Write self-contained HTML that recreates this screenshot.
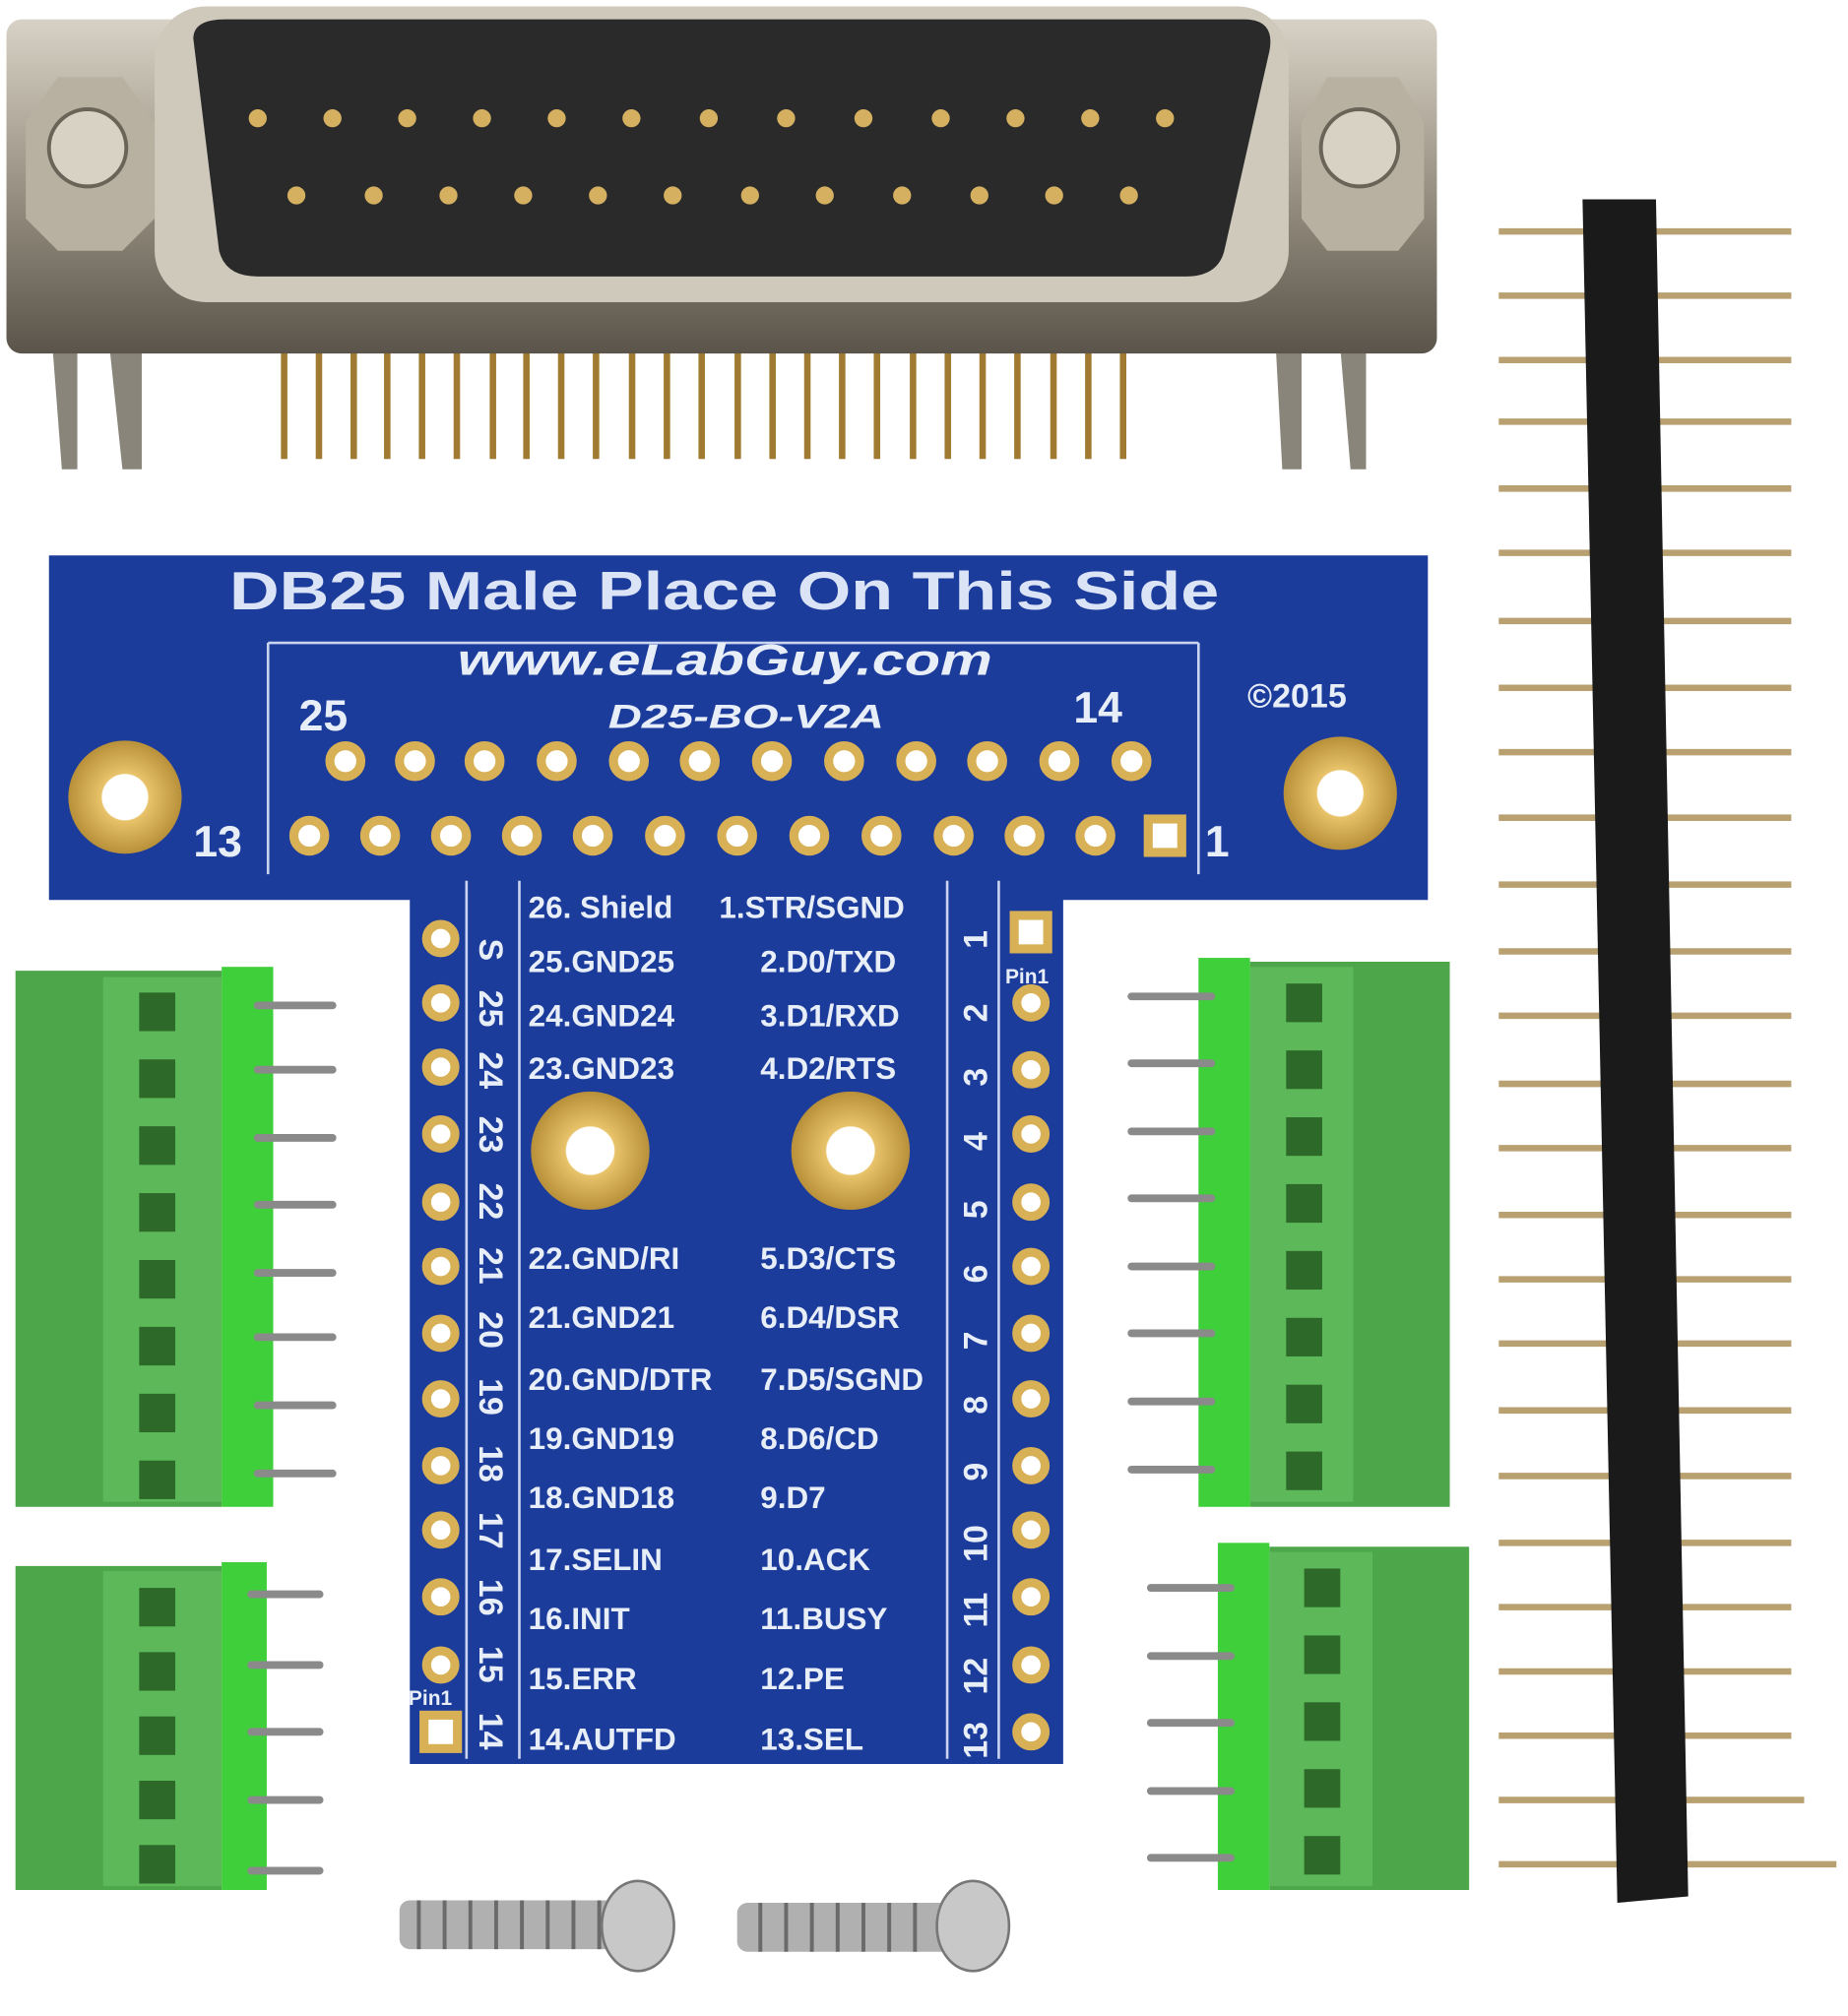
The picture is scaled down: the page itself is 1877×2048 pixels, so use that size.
<!DOCTYPE html>
<html><head><meta charset="utf-8"><style>
html,body{margin:0;padding:0;background:#fff;}
svg{display:block;}
text{font-family:"Liberation Sans",sans-serif;font-weight:bold;fill:#e8eef8;}
</style></head><body>
<svg width="1877" height="2048" viewBox="0 0 1434 1568" preserveAspectRatio="none" xmlns="http://www.w3.org/2000/svg">
<defs>
<linearGradient id="metal" x1="0" y1="0" x2="0" y2="1"><stop offset="0" stop-color="#d8d2c6"/><stop offset="0.5" stop-color="#9a9284"/><stop offset="1" stop-color="#5a544a"/></linearGradient>
<radialGradient id="gold"><stop offset="0.4" stop-color="#fff"/><stop offset="0.42" stop-color="#e8c36a"/><stop offset="1" stop-color="#b8903a"/></radialGradient>
</defs>
<g fill="#a07a30">
<rect x="218" y="262" width="5" height="95"/><rect x="245" y="262" width="5" height="95"/><rect x="272" y="262" width="5" height="95"/><rect x="298" y="262" width="5" height="95"/><rect x="325" y="262" width="5" height="95"/><rect x="352" y="262" width="5" height="95"/><rect x="380" y="262" width="5" height="95"/><rect x="406" y="262" width="5" height="95"/><rect x="433" y="262" width="5" height="95"/><rect x="460" y="262" width="5" height="95"/><rect x="488" y="262" width="5" height="95"/><rect x="515" y="262" width="5" height="95"/><rect x="542" y="262" width="5" height="95"/><rect x="570" y="262" width="5" height="95"/><rect x="597" y="262" width="5" height="95"/><rect x="624" y="262" width="5" height="95"/><rect x="651" y="262" width="5" height="95"/><rect x="678" y="262" width="5" height="95"/><rect x="706" y="262" width="5" height="95"/><rect x="733" y="262" width="5" height="95"/><rect x="760" y="262" width="5" height="95"/><rect x="787" y="262" width="5" height="95"/><rect x="815" y="262" width="5" height="95"/><rect x="842" y="262" width="5" height="95"/><rect x="869" y="262" width="5" height="95"/>
</g>
<path d="M40 260 L48 365 L60 365 L60 270 Z M85 270 L95 365 L110 365 L110 270Z M990 270 L995 365 L1010 365 L1010 270Z M1040 270 L1048 365 L1060 365 L1060 270Z" fill="#8a857a"/>
<rect x="5" y="15" width="1110" height="260" rx="12" fill="url(#metal)"/>
<rect x="120" y="5" width="880" height="230" rx="40" fill="#cfc9bc"/>
<path d="M150 30 Q150 15 175 15 L965 15 Q990 15 985 40 L950 195 Q945 215 920 215 L200 215 Q175 215 170 195 Z" fill="#2a2a2a"/>
<g fill="#d4b060">
<circle cx="200" cy="92" r="7"/><circle cx="258" cy="92" r="7"/><circle cx="316" cy="92" r="7"/><circle cx="374" cy="92" r="7"/><circle cx="432" cy="92" r="7"/><circle cx="490" cy="92" r="7"/><circle cx="550" cy="92" r="7"/><circle cx="610" cy="92" r="7"/><circle cx="670" cy="92" r="7"/><circle cx="730" cy="92" r="7"/><circle cx="788" cy="92" r="7"/><circle cx="846" cy="92" r="7"/><circle cx="904" cy="92" r="7"/>
<circle cx="230" cy="152" r="7"/><circle cx="290" cy="152" r="7"/><circle cx="348" cy="152" r="7"/><circle cx="406" cy="152" r="7"/><circle cx="464" cy="152" r="7"/><circle cx="522" cy="152" r="7"/><circle cx="582" cy="152" r="7"/><circle cx="640" cy="152" r="7"/><circle cx="700" cy="152" r="7"/><circle cx="760" cy="152" r="7"/><circle cx="818" cy="152" r="7"/><circle cx="876" cy="152" r="7"/>
</g>
<polygon points="20,95 45,60 95,60 120,95 120,170 95,195 45,195 20,170" fill="#b8b0a0"/>
<circle cx="68" cy="115" r="30" fill="#d8d2c4" stroke="#6a6458" stroke-width="3"/>
<polygon points="1010,95 1030,60 1085,60 1105,95 1105,170 1085,195 1030,195 1010,170" fill="#b8b0a0"/>
<circle cx="1055" cy="115" r="30" fill="#d8d2c4" stroke="#6a6458" stroke-width="3"/>

<path d="M38 432 L1108 432 L1108 700 L825 700 L825 1372 L318 1372 L318 700 L38 700 Z" fill="#1c3c9c"/>
<g stroke="#c8d4f0" stroke-width="2" fill="none">
<line x1="208" y1="500" x2="208" y2="680"/><line x1="930" y1="500" x2="930" y2="680"/>
<line x1="208" y1="500" x2="930" y2="500"/>
<line x1="362" y1="685" x2="362" y2="1368"/><line x1="403" y1="685" x2="403" y2="1368"/>
<line x1="735" y1="685" x2="735" y2="1368"/><line x1="775" y1="685" x2="775" y2="1368"/>
</g>
<text x="178" y="474" font-size="42" textLength="768" lengthAdjust="spacingAndGlyphs" style="fill:#dbe3f6">DB25 Male Place On This Side</text>
<text x="355" y="525" font-size="34" font-style="italic" textLength="415" lengthAdjust="spacingAndGlyphs">www.eLabGuy.com</text>
<text x="472" y="566" font-size="26" font-style="italic" textLength="214" lengthAdjust="spacingAndGlyphs">D25-BO-V2A</text>
<text x="232" y="568" font-size="34" font-weight="normal">25</text>
<text x="833" y="562" font-size="34" font-weight="normal">14</text>
<text x="968" y="550" font-size="26">©2015</text>
<text x="150" y="666" font-size="34" font-weight="normal">13</text>
<text x="935" y="666" font-size="34" font-weight="normal">1</text>
<circle cx="97" cy="620" r="44" fill="url(#gold)"/>
<circle cx="1040" cy="617" r="44" fill="url(#gold)"/>
<circle cx="458" cy="895" r="46" fill="url(#gold)"/>
<circle cx="660" cy="895" r="46" fill="url(#gold)"/>
<g fill="#fff" stroke="#d8b055" stroke-width="7">
<circle cx="268" cy="592" r="12"/><circle cx="322" cy="592" r="12"/><circle cx="376" cy="592" r="12"/><circle cx="432" cy="592" r="12"/><circle cx="488" cy="592" r="12"/><circle cx="543" cy="592" r="12"/><circle cx="599" cy="592" r="12"/><circle cx="655" cy="592" r="12"/><circle cx="711" cy="592" r="12"/><circle cx="766" cy="592" r="12"/><circle cx="822" cy="592" r="12"/><circle cx="878" cy="592" r="12"/>
<circle cx="240" cy="650" r="12"/><circle cx="295" cy="650" r="12"/><circle cx="350" cy="650" r="12"/><circle cx="405" cy="650" r="12"/><circle cx="460" cy="650" r="12"/><circle cx="516" cy="650" r="12"/><circle cx="572" cy="650" r="12"/><circle cx="628" cy="650" r="12"/><circle cx="684" cy="650" r="12"/><circle cx="740" cy="650" r="12"/><circle cx="795" cy="650" r="12"/><circle cx="850" cy="650" r="12"/>
<circle cx="342" cy="730" r="11"/><circle cx="342" cy="780" r="11"/><circle cx="342" cy="830" r="11"/><circle cx="342" cy="882" r="11"/><circle cx="342" cy="935" r="11"/><circle cx="342" cy="985" r="11"/><circle cx="342" cy="1037" r="11"/><circle cx="342" cy="1088" r="11"/><circle cx="342" cy="1140" r="11"/><circle cx="342" cy="1190" r="11"/><circle cx="342" cy="1242" r="11"/><circle cx="342" cy="1295" r="11"/>
<circle cx="800" cy="780" r="11"/><circle cx="800" cy="832" r="11"/><circle cx="800" cy="882" r="11"/><circle cx="800" cy="935" r="11"/><circle cx="800" cy="985" r="11"/><circle cx="800" cy="1037" r="11"/><circle cx="800" cy="1088" r="11"/><circle cx="800" cy="1140" r="11"/><circle cx="800" cy="1190" r="11"/><circle cx="800" cy="1242" r="11"/><circle cx="800" cy="1295" r="11"/><circle cx="800" cy="1347" r="11"/>
</g>
<g fill="#fff" stroke="#d8b055" stroke-width="7">
<rect x="891" y="637" width="26" height="26"/><rect x="329" y="1334" width="26" height="26"/><rect x="787" y="712" width="26" height="26"/>
</g>
<text x="317" y="1326" font-size="16">Pin1</text>
<text x="780" y="765" font-size="16">Pin1</text>
<g font-size="24">
<text x="410" y="714">26. Shield</text><text x="558" y="714">1.STR/SGND</text>
<text x="410" y="756">25.GND25</text><text x="590" y="756">2.D0/TXD</text>
<text x="410" y="798">24.GND24</text><text x="590" y="798">3.D1/RXD</text>
<text x="410" y="839">23.GND23</text><text x="590" y="839">4.D2/RTS</text>
<text x="410" y="987">22.GND/RI</text><text x="590" y="987">5.D3/CTS</text>
<text x="410" y="1033">21.GND21</text><text x="590" y="1033">6.D4/DSR</text>
<text x="410" y="1081">20.GND/DTR</text><text x="590" y="1081">7.D5/SGND</text>
<text x="410" y="1127">19.GND19</text><text x="590" y="1127">8.D6/CD</text>
<text x="410" y="1173">18.GND18</text><text x="590" y="1173">9.D7</text>
<text x="410" y="1221">17.SELIN</text><text x="590" y="1221">10.ACK</text>
<text x="410" y="1267">16.INIT</text><text x="590" y="1267">11.BUSY</text>
<text x="410" y="1314">15.ERR</text><text x="590" y="1314">12.PE</text>
<text x="410" y="1361">14.AUTFD</text><text x="590" y="1361">13.SEL</text>
</g>
<g font-size="26">
<text transform="translate(372,730) rotate(90)">S</text>
<text transform="translate(372,770) rotate(90)">25</text>
<text transform="translate(372,818) rotate(90)">24</text>
<text transform="translate(372,868) rotate(90)">23</text>
<text transform="translate(372,920) rotate(90)">22</text>
<text transform="translate(372,970) rotate(90)">21</text>
<text transform="translate(372,1020) rotate(90)">20</text>
<text transform="translate(372,1072) rotate(90)">19</text>
<text transform="translate(372,1124) rotate(90)">18</text>
<text transform="translate(372,1176) rotate(90)">17</text>
<text transform="translate(372,1228) rotate(90)">16</text>
<text transform="translate(372,1280) rotate(90)">15</text>
<text transform="translate(372,1332) rotate(90)">14</text>
<text transform="translate(766,738) rotate(-90)">1</text>
<text transform="translate(766,795) rotate(-90)">2</text>
<text transform="translate(766,845) rotate(-90)">3</text>
<text transform="translate(766,895) rotate(-90)">4</text>
<text transform="translate(766,948) rotate(-90)">5</text>
<text transform="translate(766,998) rotate(-90)">6</text>
<text transform="translate(766,1050) rotate(-90)">7</text>
<text transform="translate(766,1100) rotate(-90)">8</text>
<text transform="translate(766,1152) rotate(-90)">9</text>
<text transform="translate(766,1215) rotate(-90)">10</text>
<text transform="translate(766,1266) rotate(-90)">11</text>
<text transform="translate(766,1318) rotate(-90)">12</text>
<text transform="translate(766,1368) rotate(-90)">13</text>
</g>

<g>
<rect x="12" y="755" width="160" height="417" fill="#4ea64a"/>
<rect x="172" y="752" width="40" height="420" fill="#3ecf3a"/>
<rect x="80" y="760" width="92" height="408" fill="#5cb858"/>
<rect x="12" y="1218" width="160" height="252" fill="#4ea64a"/>
<rect x="172" y="1215" width="35" height="255" fill="#3ecf3a"/>
<rect x="80" y="1222" width="92" height="245" fill="#5cb858"/>
<rect x="970" y="748" width="155" height="424" fill="#4ea64a"/>
<rect x="930" y="745" width="40" height="427" fill="#3ecf3a"/>
<rect x="970" y="752" width="80" height="416" fill="#5cb858"/>
<rect x="985" y="1203" width="155" height="267" fill="#4ea64a"/>
<rect x="945" y="1200" width="40" height="270" fill="#3ecf3a"/>
<rect x="985" y="1207" width="80" height="260" fill="#5cb858"/>
</g>
<g fill="#2d6a2a">
<rect x="108" y="772" width="28" height="30"/><rect x="108" y="824" width="28" height="30"/><rect x="108" y="876" width="28" height="30"/><rect x="108" y="928" width="28" height="30"/><rect x="108" y="980" width="28" height="30"/><rect x="108" y="1032" width="28" height="30"/><rect x="108" y="1084" width="28" height="30"/><rect x="108" y="1136" width="28" height="30"/>
<rect x="108" y="1235" width="28" height="30"/><rect x="108" y="1285" width="28" height="30"/><rect x="108" y="1335" width="28" height="30"/><rect x="108" y="1385" width="28" height="30"/><rect x="108" y="1435" width="28" height="30"/>
<rect x="998" y="765" width="28" height="30"/><rect x="998" y="817" width="28" height="30"/><rect x="998" y="869" width="28" height="30"/><rect x="998" y="921" width="28" height="30"/><rect x="998" y="973" width="28" height="30"/><rect x="998" y="1025" width="28" height="30"/><rect x="998" y="1077" width="28" height="30"/><rect x="998" y="1129" width="28" height="30"/>
<rect x="1012" y="1220" width="28" height="30"/><rect x="1012" y="1272" width="28" height="30"/><rect x="1012" y="1324" width="28" height="30"/><rect x="1012" y="1376" width="28" height="30"/><rect x="1012" y="1428" width="28" height="30"/>
</g>
<g stroke="#8a8a8a" stroke-width="6" stroke-linecap="round">
<line x1="200" y1="782" x2="258" y2="782"/><line x1="200" y1="832" x2="258" y2="832"/><line x1="200" y1="885" x2="258" y2="885"/><line x1="200" y1="937" x2="258" y2="937"/><line x1="200" y1="990" x2="258" y2="990"/><line x1="200" y1="1040" x2="258" y2="1040"/><line x1="200" y1="1093" x2="258" y2="1093"/><line x1="200" y1="1146" x2="258" y2="1146"/>
<line x1="195" y1="1240" x2="248" y2="1240"/><line x1="195" y1="1295" x2="248" y2="1295"/><line x1="195" y1="1347" x2="248" y2="1347"/><line x1="195" y1="1400" x2="248" y2="1400"/><line x1="195" y1="1455" x2="248" y2="1455"/>
<line x1="878" y1="775" x2="940" y2="775"/><line x1="878" y1="827" x2="940" y2="827"/><line x1="878" y1="880" x2="940" y2="880"/><line x1="878" y1="932" x2="940" y2="932"/><line x1="878" y1="985" x2="940" y2="985"/><line x1="878" y1="1037" x2="940" y2="1037"/><line x1="878" y1="1090" x2="940" y2="1090"/><line x1="878" y1="1143" x2="940" y2="1143"/>
<line x1="893" y1="1235" x2="955" y2="1235"/><line x1="893" y1="1288" x2="955" y2="1288"/><line x1="893" y1="1340" x2="955" y2="1340"/><line x1="893" y1="1393" x2="955" y2="1393"/><line x1="893" y1="1445" x2="955" y2="1445"/>
</g>

<g stroke="#b8a070" stroke-width="5">
<line x1="1163" y1="180" x2="1390" y2="180"/><line x1="1163" y1="230" x2="1390" y2="230"/><line x1="1163" y1="280" x2="1390" y2="280"/><line x1="1163" y1="328" x2="1390" y2="328"/><line x1="1163" y1="380" x2="1390" y2="380"/><line x1="1163" y1="430" x2="1390" y2="430"/><line x1="1163" y1="483" x2="1390" y2="483"/><line x1="1163" y1="535" x2="1390" y2="535"/><line x1="1163" y1="585" x2="1390" y2="585"/><line x1="1163" y1="636" x2="1390" y2="636"/><line x1="1163" y1="688" x2="1390" y2="688"/><line x1="1163" y1="740" x2="1390" y2="740"/><line x1="1163" y1="790" x2="1390" y2="790"/><line x1="1163" y1="843" x2="1390" y2="843"/><line x1="1163" y1="893" x2="1390" y2="893"/><line x1="1163" y1="945" x2="1390" y2="945"/><line x1="1163" y1="995" x2="1390" y2="995"/><line x1="1163" y1="1045" x2="1390" y2="1045"/><line x1="1163" y1="1097" x2="1390" y2="1097"/><line x1="1163" y1="1148" x2="1390" y2="1148"/><line x1="1163" y1="1200" x2="1390" y2="1200"/><line x1="1163" y1="1250" x2="1390" y2="1250"/><line x1="1163" y1="1300" x2="1390" y2="1300"/><line x1="1163" y1="1350" x2="1390" y2="1350"/><line x1="1163" y1="1400" x2="1400" y2="1400"/><line x1="1163" y1="1450" x2="1425" y2="1450"/>
</g>
<path d="M1228 155 L1285 155 L1310 1475 L1255 1480 Z" fill="#1a1a1a"/>

<rect x="310" y="1478" width="170" height="38" rx="8" fill="#b0b0b0"/>
<g stroke="#6a6a6a" stroke-width="3"><line x1="325" y1="1478" x2="325" y2="1516"/><line x1="345" y1="1478" x2="345" y2="1516"/><line x1="365" y1="1478" x2="365" y2="1516"/><line x1="385" y1="1478" x2="385" y2="1516"/><line x1="405" y1="1478" x2="405" y2="1516"/><line x1="425" y1="1478" x2="425" y2="1516"/><line x1="445" y1="1478" x2="445" y2="1516"/><line x1="465" y1="1478" x2="465" y2="1516"/></g>
<ellipse cx="495" cy="1498" rx="28" ry="35" fill="#c8c8c8" stroke="#777" stroke-width="2"/>
<rect x="572" y="1480" width="170" height="38" rx="8" fill="#b0b0b0"/>
<g stroke="#6a6a6a" stroke-width="3"><line x1="590" y1="1480" x2="590" y2="1518"/><line x1="610" y1="1480" x2="610" y2="1518"/><line x1="630" y1="1480" x2="630" y2="1518"/><line x1="650" y1="1480" x2="650" y2="1518"/><line x1="670" y1="1480" x2="670" y2="1518"/><line x1="690" y1="1480" x2="690" y2="1518"/><line x1="710" y1="1480" x2="710" y2="1518"/></g>
<ellipse cx="755" cy="1498" rx="28" ry="35" fill="#c8c8c8" stroke="#777" stroke-width="2"/>
</svg>
</body></html>
